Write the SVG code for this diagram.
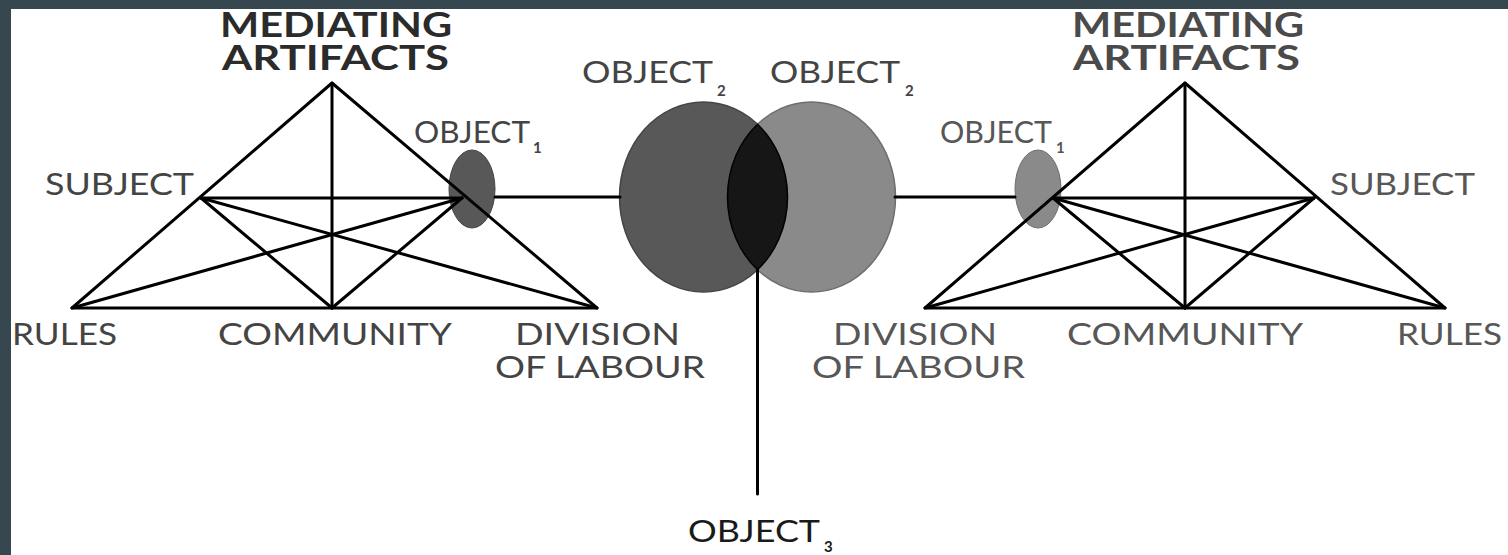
<svg xmlns="http://www.w3.org/2000/svg" width="1508" height="555" viewBox="0 0 1508 555">
<style>
.ln{stroke:#000;stroke-width:3;stroke-linecap:round;stroke-linejoin:round;fill:none}
.lbl{font-family:Lato,"Liberation Sans",sans-serif;font-size:31px;fill:#444}
.lblr{fill:#575757}
.hd{font-family:Lato,"Liberation Sans",sans-serif;font-size:34px;font-weight:bold;fill:#2b2b2b}
.hdr{fill:#4a4a4a}
.ob{font-size:30px}
.sub{font-family:Lato,"Liberation Sans",sans-serif;font-size:15px;fill:#444;font-weight:bold}
</style>
<rect width="1508" height="555" fill="#fff"/>
<rect x="0" y="0" width="1508" height="9" fill="#37474f"/>
<rect x="0" y="0" width="11" height="555" fill="#37474f"/>

<g id="object2-left">
<ellipse cx="703.5" cy="197" rx="84" ry="95" fill="#585858" stroke="#454545" stroke-width="1.5"/>
<text class="lbl ob" x="582" y="83" textLength="131" lengthAdjust="spacingAndGlyphs">OBJECT</text>
<text class="sub" x="717" y="96">2</text>
</g>
<g id="object2-right">
<ellipse cx="811.5" cy="197" rx="84" ry="95" fill="#8a8a8a" stroke="#6e6e6e" stroke-width="1.5"/>
<text class="lbl ob" x="770" y="83" textLength="130" lengthAdjust="spacingAndGlyphs">OBJECT</text>
<text class="sub" x="905" y="96">2</text>
</g>
<g id="object3">
<path d="M757.5 124.2 A84 95 0 0 1 757.5 269.8 A84 95 0 0 1 757.5 124.2 Z" fill="#161616" stroke="#000" stroke-width="1.5"/>
<text class="lbl ob" x="688" y="542" textLength="132" lengthAdjust="spacingAndGlyphs" style="fill:#1a1a1a">OBJECT</text>
<text class="sub" x="824" y="552" style="fill:#1a1a1a">3</text>
</g>

<g id="object1-left">
<ellipse cx="472" cy="189" rx="23" ry="39" fill="#585858" stroke="#454545" stroke-width="1"/>
<text class="lbl ob" x="414" y="143" textLength="116" lengthAdjust="spacingAndGlyphs">OBJECT</text>
<text class="sub" x="533" y="153">1</text>
</g>
<g id="object1-right">
<ellipse cx="1038" cy="189" rx="23" ry="39" fill="#8a8a8a" stroke="#6e6e6e" stroke-width="1"/>
<text class="lbl ob lblr" x="940" y="143" textLength="112" lengthAdjust="spacingAndGlyphs">OBJECT</text>
<text class="sub" x="1056" y="153" style="fill:#575757">1</text>
</g>

<g id="connectors">
<line class="ln" x1="495" y1="197" x2="620" y2="197"/>
<line class="ln" x1="895" y1="197" x2="1015" y2="197"/>
<line class="ln" x1="757.5" y1="270" x2="757.5" y2="494"/>
</g>

<g id="triangle-left">
<path class="ln" d="M72 308 L332 83 L597 308 Z"/>
<line class="ln" x1="332" y1="83" x2="332" y2="308"/>
<line class="ln" x1="201" y1="198" x2="462" y2="198"/>
<line class="ln" x1="201" y1="198" x2="332" y2="308"/>
<line class="ln" x1="462" y1="198" x2="332" y2="308"/>
<line class="ln" x1="201" y1="198" x2="597" y2="308"/>
<line class="ln" x1="462" y1="198" x2="72" y2="308"/>
</g>
<g id="triangle-right">
<path class="ln" d="M925 308 L1185 83 L1445 308 Z"/>
<line class="ln" x1="1185" y1="83" x2="1185" y2="308"/>
<line class="ln" x1="1053" y1="198" x2="1314" y2="198"/>
<line class="ln" x1="1053" y1="198" x2="1185" y2="308"/>
<line class="ln" x1="1314" y1="198" x2="1185" y2="308"/>
<line class="ln" x1="1053" y1="198" x2="1445" y2="308"/>
<line class="ln" x1="1314" y1="198" x2="925" y2="308"/>
</g>

<g id="mediating-left">
<text class="hd" x="220" y="37" textLength="232" lengthAdjust="spacingAndGlyphs">MEDIATING</text>
<text class="hd" x="222" y="70" textLength="227" lengthAdjust="spacingAndGlyphs">ARTIFACTS</text>
</g>
<g id="subject-left"><text class="lbl" x="45" y="195" textLength="149" lengthAdjust="spacingAndGlyphs">SUBJECT</text></g>
<g id="rules-left"><text class="lbl" x="12" y="345" textLength="105" lengthAdjust="spacingAndGlyphs">RULES</text></g>
<g id="community-left"><text class="lbl" x="218" y="345" textLength="234" lengthAdjust="spacingAndGlyphs">COMMUNITY</text></g>
<g id="division-left">
<text class="lbl" x="515" y="345" textLength="165" lengthAdjust="spacingAndGlyphs">DIVISION</text>
<text class="lbl" x="495" y="378" textLength="210" lengthAdjust="spacingAndGlyphs">OF LABOUR</text>
</g>

<g id="mediating-right">
<text class="hd hdr" x="1072" y="37" textLength="232" lengthAdjust="spacingAndGlyphs">MEDIATING</text>
<text class="hd hdr" x="1073" y="70" textLength="227" lengthAdjust="spacingAndGlyphs">ARTIFACTS</text>
</g>
<g id="subject-right"><text class="lbl lblr" x="1330" y="195" textLength="145" lengthAdjust="spacingAndGlyphs">SUBJECT</text></g>
<g id="rules-right"><text class="lbl lblr" x="1397" y="345" textLength="105" lengthAdjust="spacingAndGlyphs">RULES</text></g>
<g id="community-right"><text class="lbl lblr" x="1067" y="345" textLength="236" lengthAdjust="spacingAndGlyphs">COMMUNITY</text></g>
<g id="division-right">
<text class="lbl lblr" x="833" y="345" textLength="164" lengthAdjust="spacingAndGlyphs">DIVISION</text>
<text class="lbl lblr" x="812" y="378" textLength="213" lengthAdjust="spacingAndGlyphs">OF LABOUR</text>
</g>
</svg>
